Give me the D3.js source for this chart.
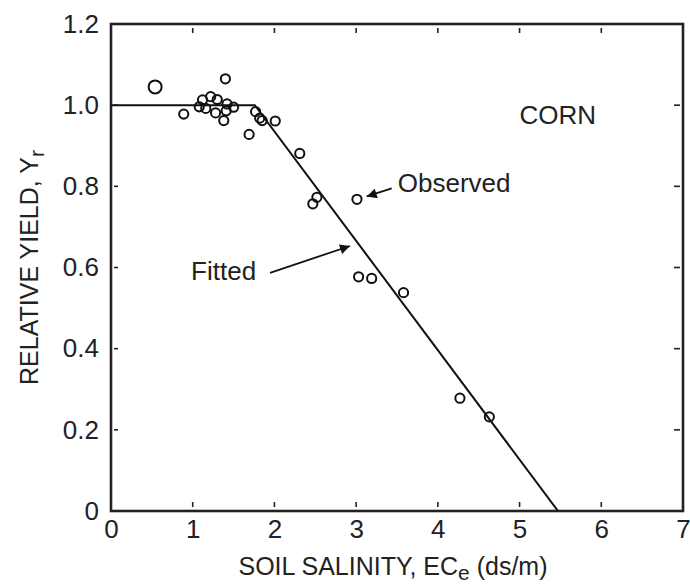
<!DOCTYPE html>
<html>
<head>
<meta charset="utf-8">
<script src="https://cdn.jsdelivr.net/npm/d3@7"></script>
<style>
  body { margin: 0; background: #fff; }
  text { font-family: "Liberation Sans", Arial, sans-serif; fill: #222; }
</style>
</head>
<body>
<div class="visArea"></div>
<script>
// Observed points (soil salinity, relative yield)
var salinity = [0.54, 0.89, 1.40, 1.08, 1.12, 1.16, 1.22, 1.30, 1.28, 1.38, 1.42, 1.41, 1.50,
  1.77, 1.82, 1.85, 2.01, 1.69, 2.31, 2.52, 2.47, 3.01, 3.03, 3.19, 3.58, 4.27, 4.63];
var yieldObs = [1.045, 0.978, 1.065, 0.996, 1.013, 0.992, 1.021, 1.014, 0.981, 0.962, 1.003, 0.986, 0.995,
  0.984, 0.968, 0.962, 0.961, 0.928, 0.881, 0.773, 0.757, 0.768, 0.577, 0.573, 0.538, 0.278, 0.232];
var bigPoint = [0]; // index of the larger marker

// Fitted threshold-slope line
var fitX = [0, 1.76, 5.47];
var fitY = [1.0, 1.0, 0];

var xTicks = [0, 1, 2, 3, 4, 5, 6, 7];
var yTicks = [0, 0.2, 0.4, 0.6, 0.8, 1.0, 1.2];

// annotation anchors, in data units
var observedLabel = {x: 3.51, y: 0.786, text: "Observed"};
var observedArrow = [[3.435, 0.795], [3.13, 0.775]];
var fittedLabel = {x: 0.98, y: 0.569, text: "Fitted"};
var fittedArrow = [[1.946, 0.587], [2.925, 0.653]];
var cropLabel = {x: 5.0, y: 0.954, text: "CORN"};

var width = 690;
var height = 586;
var margin = {left: 111, right: 7, top: 24, bottom: 75};

var svg = d3.select('.visArea')
  .append('svg')
  .attr('width', width)
  .attr('height', height);

var x = d3.scaleLinear().domain([0, 7]).range([margin.left, width - margin.right]);
var y = d3.scaleLinear().domain([0, 1.2]).range([height - margin.bottom, margin.top]);

svg.append('defs').append('marker')
  .attr('id', 'arrow')
  .attr('viewBox', '0 0 10 10')
  .attr('refX', 10).attr('refY', 5)
  .attr('markerWidth', 14).attr('markerHeight', 10)
  .attr('markerUnits', 'userSpaceOnUse')
  .attr('orient', 'auto')
  .append('path')
  .attr('d', 'M0,0 L10,5 L0,10 z')
  .attr('fill', '#111');

// tick labels through d3 axes
var fmtY = d => d === 0 ? "0" : d3.format(".1f")(d);

var xAxis = svg.append('g')
  .attr('transform', 'translate(0,' + y(0) + ')')
  .call(d3.axisBottom(x).tickValues(xTicks).tickFormat(d3.format('d')).tickSize(0).tickPadding(9));
xAxis.select('.domain').remove();
xAxis.selectAll('text').style('font-size', '26px').attr('fill', '#222');

var yAxis = svg.append('g')
  .attr('transform', 'translate(' + x(0) + ',0)')
  .call(d3.axisLeft(y).tickValues(yTicks).tickFormat(fmtY).tickSize(0).tickPadding(12));
yAxis.select('.domain').remove();
yAxis.selectAll('text').style('font-size', '26px').attr('fill', '#222');

// inward tick marks on all four sides
var inner = xTicks.slice(1, -1);
var innerY = yTicks.slice(1, -1);
var tickG = svg.append('g').attr('stroke', '#222').attr('stroke-width', 1.6);
tickG.selectAll('.tb').data(inner).enter().append('line')
  .attr('x1', d => x(d)).attr('x2', d => x(d))
  .attr('y1', y(0) - 4).attr('y2', y(0) - 9);
tickG.selectAll('.tt').data(inner).enter().append('line')
  .attr('x1', d => x(d)).attr('x2', d => x(d))
  .attr('y1', y(1.2) + 4).attr('y2', y(1.2) + 9);
tickG.selectAll('.tl').data(innerY).enter().append('line')
  .attr('y1', d => y(d)).attr('y2', d => y(d))
  .attr('x1', x(0) + 3).attr('x2', x(0) + 7);
tickG.selectAll('.tr').data(innerY).enter().append('line')
  .attr('y1', d => y(d)).attr('y2', d => y(d))
  .attr('x1', x(7) - 3).attr('x2', x(7) - 9);

// frame
svg.append('rect')
  .attr('x', x(0)).attr('y', y(1.2))
  .attr('width', x(7) - x(0)).attr('height', y(0) - y(1.2))
  .attr('fill', 'none')
  .attr('stroke', '#222')
  .attr('stroke-width', 2.6);

// fitted line
var line = d3.line().x(d => x(d[0])).y(d => y(d[1]));
svg.append('path')
  .datum(d3.zip(fitX, fitY))
  .attr('d', line)
  .attr('fill', 'none')
  .attr('stroke', '#111')
  .attr('stroke-width', 2);

// observed points
svg.selectAll('circle.obs')
  .data(d3.zip(salinity, yieldObs))
  .enter().append('circle')
  .attr('class', 'obs')
  .attr('cx', d => x(d[0]))
  .attr('cy', d => y(d[1]))
  .attr('r', (d, i) => bigPoint.indexOf(i) >= 0 ? 6.5 : 4.6)
  .attr('fill', 'none')
  .attr('stroke', '#111')
  .attr('stroke-width', 2);

// annotations
[observedLabel, fittedLabel, cropLabel].forEach(function(a) {
  svg.append('text')
    .attr('x', x(a.x)).attr('y', y(a.y))
    .style('font-size', '26px')
    .text(a.text);
});
[observedArrow, fittedArrow].forEach(function(a) {
  svg.append('path')
    .datum(a)
    .attr('d', line)
    .attr('stroke', '#111')
    .attr('stroke-width', 1.8)
    .attr('marker-end', 'url(#arrow)');
});

// axis titles
var xt = svg.append('text')
  .attr('x', (x(0) + x(7)) / 2 - 4)
  .attr('y', 575)
  .attr('text-anchor', 'middle')
  .style('font-size', '25px');
xt.append('tspan').text('SOIL SALINITY, EC');
xt.append('tspan').attr('dy', 5).style('font-size', '21px').text('e');
xt.append('tspan').attr('dy', -5).text(' (ds/m)');

var yt = svg.append('text')
  .attr('transform', 'translate(38,' + ((y(0) + y(1.2)) / 2) + ') rotate(-90)')
  .attr('text-anchor', 'middle')
  .style('font-size', '25px');
yt.append('tspan').text('RELATIVE YIELD, Y');
yt.append('tspan').attr('dy', 6).style('font-size', '21px').text('r');
</script>
</body>
</html>
